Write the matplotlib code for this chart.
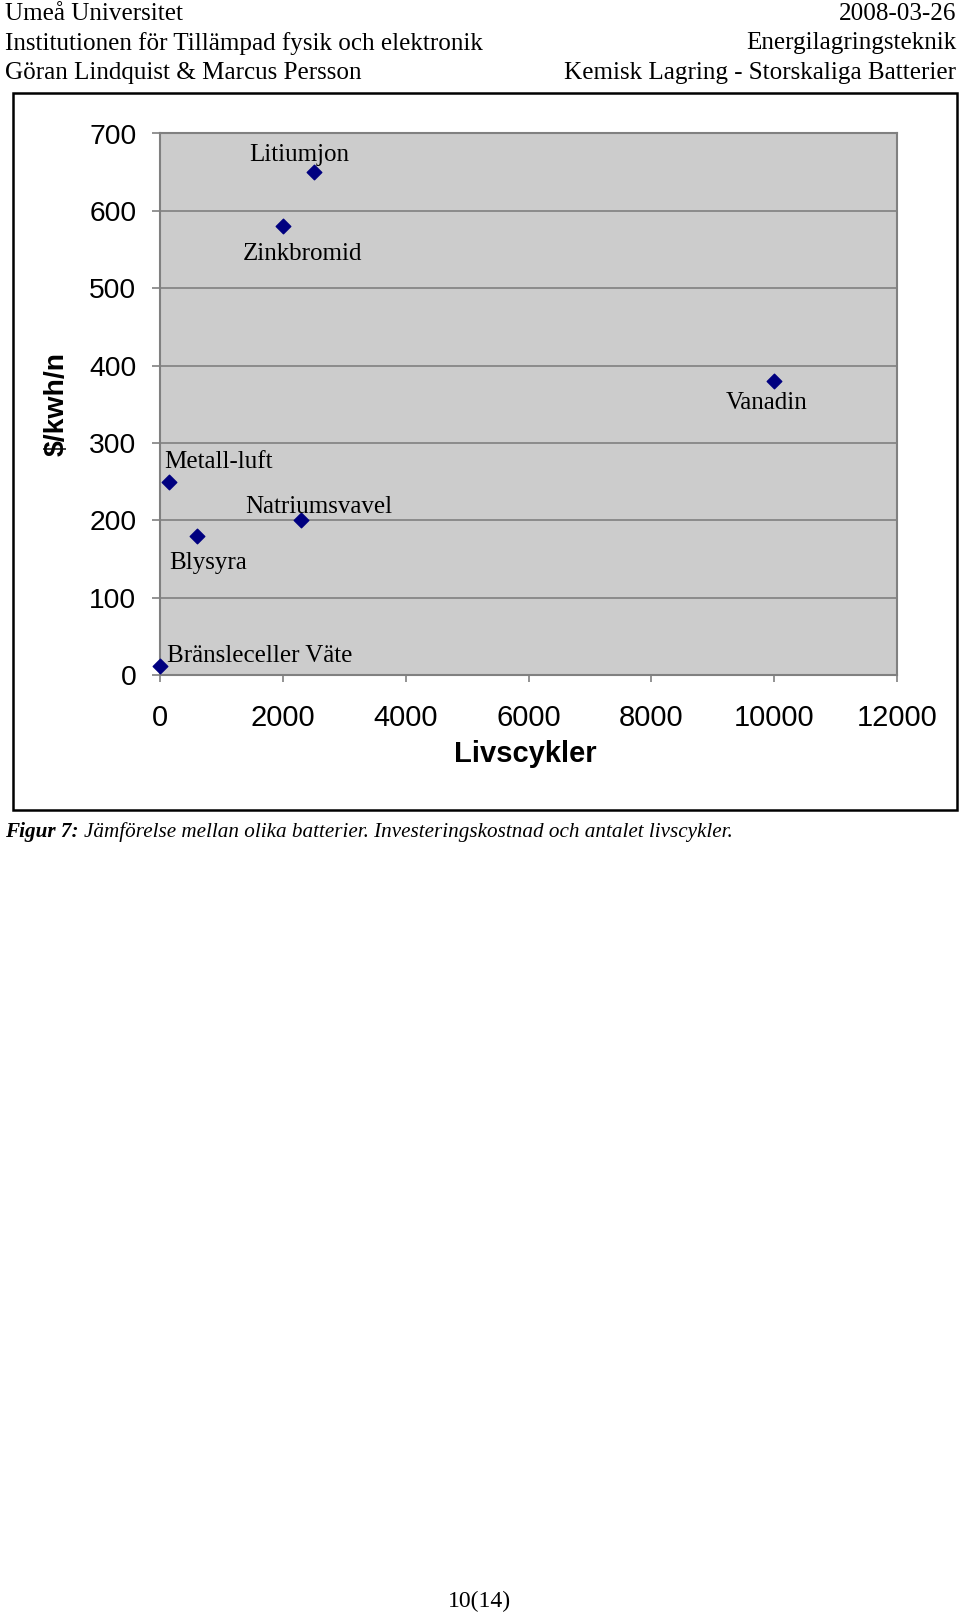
import matplotlib
matplotlib.use("Agg")
import matplotlib.pyplot as plt
from matplotlib.patches import Rectangle

# data
names = ["Litiumjon", "Zinkbromid", "Vanadin", "Metall-luft",
         "Natriumsvavel", "Blysyra", "Bränsleceller Väte"]
cycles = [2500, 2000, 10000, 150, 2300, 600, 0]
cost = [650, 580, 380, 250, 200, 180, 12]

xticks = [0, 2000, 4000, 6000, 8000, 10000, 12000]
yticks = [0, 100, 200, 300, 400, 500, 600, 700]

header_left = ["Umeå Universitet",
               "Institutionen för Tillämpad fysik och elektronik",
               "Göran Lindquist & Marcus Persson"]
header_right = ["2008-03-26", "Energilagringsteknik",
                "Kemisk Lagring - Storskaliga Batterier"]

W, H = 960, 1617
fig = plt.figure(figsize=(W / 100, H / 100), dpi=100)


def fx(px):
    return px / W


def fy(py):
    return 1 - py / H


serif = "Liberation Serif"
sans = "Liberation Sans"

# page header
for i, (l, r) in enumerate(zip(header_left, header_right)):
    y = fy(14.5 + i * 29)
    fig.text(fx(5), y, l, family=serif, size=18.1, ha="left", va="center")
    fig.text(fx(956), y, r, family=serif, size=18.1, ha="right", va="center")

# chart frame
fig.patches.append(Rectangle((fx(12.5), fy(810)), fx(957) - fx(12.5), fy(93) - fy(810),
                             transform=fig.transFigure, fill=False, lw=1.8,
                             edgecolor="black"))

ax = fig.add_axes([fx(160), fy(675), fx(897) - fx(160), fy(133.5) - fy(675)])
ax.set_facecolor("#cccccc")
ax.scatter(cycles, cost, marker="D", s=55, color="#000080", zorder=3, clip_on=False)

# data labels (pixel offsets from the markers)
offsets = [(-14, 17), (20, -28), (-8, -22), (49, 20), (18, 13), (11, -27), (100, 10)]
for n, x, y, (dx, dy) in zip(names, cycles, cost, offsets):
    ax.annotate(n, (x, y), xytext=(dx, dy), textcoords="offset pixels",
                family=serif, size=18, ha="center", va="center", zorder=4)

ax.set_xlim(0, 12000)
ax.set_ylim(0, 700)
ax.set_xticks(xticks)
ax.set_yticks(yticks)
ax.grid(axis="y", color="#808080", lw=1.2)
ax.set_axisbelow(True)
for s in ax.spines.values():
    s.set_color("#808080")
    s.set_linewidth(1.5)
ax.tick_params(axis="x", direction="out", length=5, width=1.2, color="#808080",
               pad=16, labelsize=21)
ax.tick_params(axis="y", direction="out", length=6, width=1.2, color="#808080",
               pad=11, labelsize=20.3)
for lab in ax.get_xticklabels() + ax.get_yticklabels():
    lab.set_family(sans)

ax.set_xlabel("Livscykler", family=sans, size=21, weight="bold")
ax.xaxis.set_label_coords(0.496, -0.146)
ax.set_ylabel("$/kwh/n", family=sans, size=20.4, weight="bold")
ax.yaxis.set_label_coords(-0.140, 0.5)
ax.yaxis.label.set_va("center")
ax.xaxis.label.set_va("center")

# caption: bold part first, then the rest right after it
cap1 = fig.text(fx(5), fy(832), "Figur 7:", family=serif, size=15.25, style="italic",
                weight="bold", ha="left", va="center")
fig.canvas.draw()
bb = cap1.get_window_extent()
fig.text(fx(bb.x1 + 5), fy(832),
         "Jämförelse mellan olika batterier. Investeringskostnad och antalet livscykler.",
         family=serif, size=15.25, style="italic", ha="left", va="center")

# page number
fig.text(fx(479.5), fy(1601), "10(14)", family=serif, size=17, ha="center", va="center")

fig.savefig("out.png", dpi=100)
